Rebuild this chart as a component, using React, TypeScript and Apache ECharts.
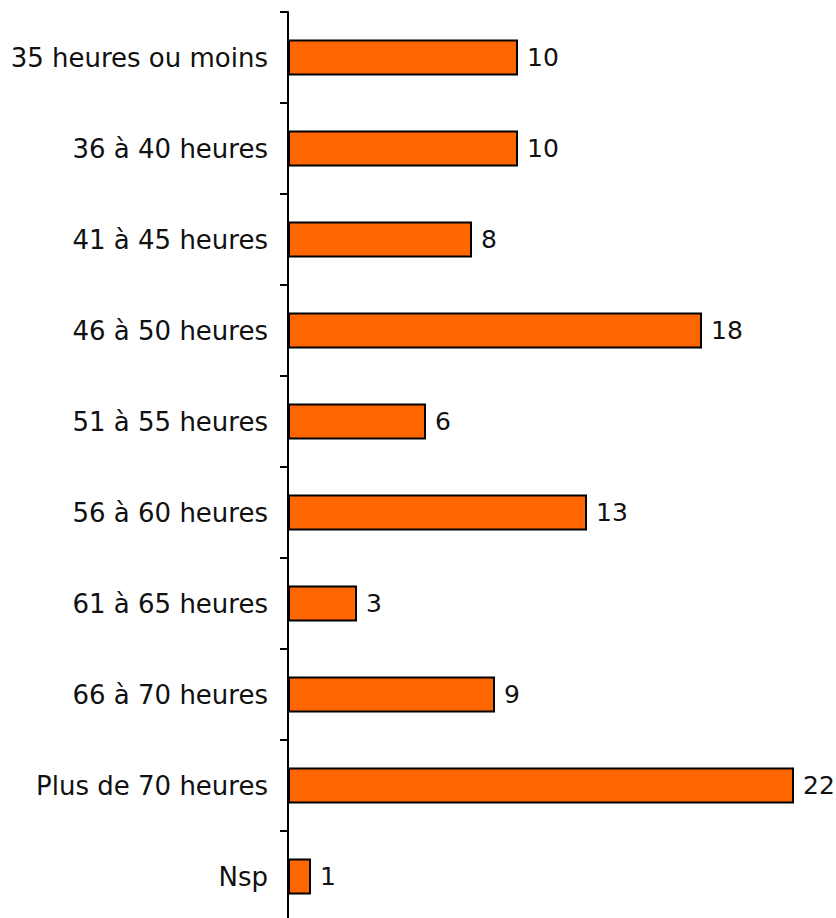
import React, { useEffect, useRef } from "react";
import * as echarts from "echarts";

const categories = [
  "35 heures ou moins",
  "36 à 40 heures",
  "41 à 45 heures",
  "46 à 50 heures",
  "51 à 55 heures",
  "56 à 60 heures",
  "61 à 65 heures",
  "66 à 70 heures",
  "Plus de 70 heures",
  "Nsp",
];
const values = [10, 10, 8, 18, 6, 13, 3, 9, 22, 1];

export default function App() {
  const ref = useRef<HTMLDivElement>(null);
  useEffect(() => {
    if (!ref.current) return;
    const chart = echarts.init(ref.current, undefined, { renderer: "svg" });
    chart.setOption({
      animation: false,
      backgroundColor: "#ffffff",
      grid: { left: 288, right: 42, top: 12, bottom: 8, containLabel: false },
      xAxis: {
        type: "value",
        min: 0,
        max: 22,
        show: false,
      },
      yAxis: {
        type: "category",
        data: categories,
        inverse: true,
        axisLine: { show: true, lineStyle: { color: "#000", width: 2 } },
        axisTick: { show: true, length: 8, lineStyle: { color: "#000", width: 2 } },
        axisLabel: {
          color: "#111",
          fontFamily: "DejaVu Sans",
          fontSize: 26,
          margin: 20,
          padding: [4, 0, 0, 0],
        },
      },
      series: [
        {
          type: "bar",
          data: values,
          barWidth: 36,
          itemStyle: { color: "#FF6600", borderColor: "#000", borderWidth: 2 },
          label: {
            show: true,
            position: "right",
            distance: 9,
            color: "#111",
            fontFamily: "DejaVu Sans",
            fontSize: 25,
            padding: [3, 0, 0, 0],
          },
        },
      ],
    });
    return () => chart.dispose();
  }, []);
  return (
    <div
      ref={ref}
      style={{ position: "fixed", left: 0, top: 0, width: 836, height: 930 }}
    />
  );
}
